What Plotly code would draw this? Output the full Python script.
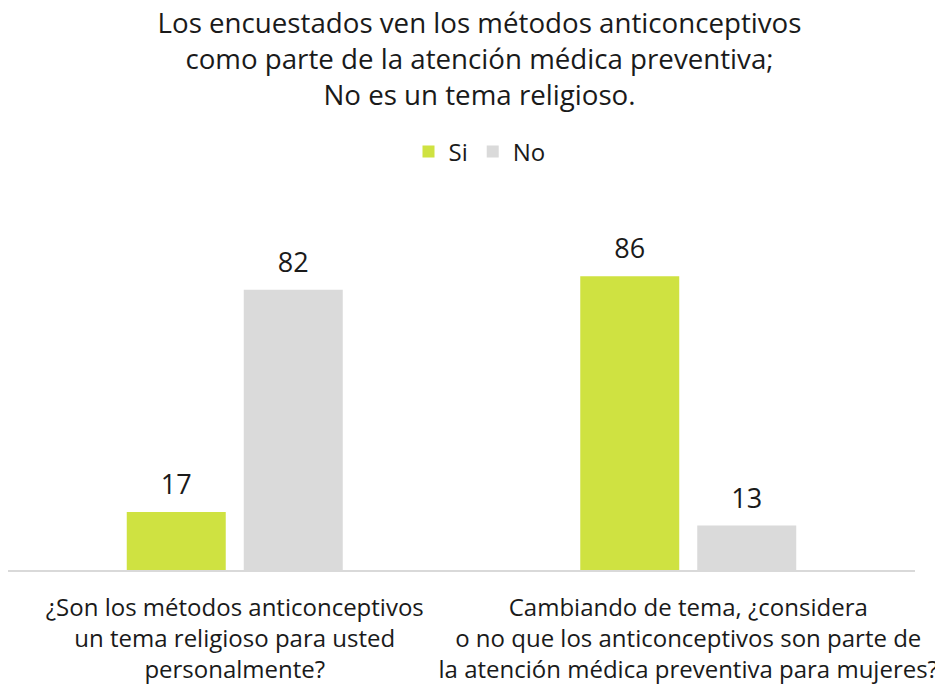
import plotly.graph_objects as go

categories = [
    "¿Son los métodos anticonceptivos<br>un tema religioso para usted<br>personalmente?",
    "Cambiando de tema, ¿considera<br>o no que los anticonceptivos son parte de<br>la atención médica preventiva para mujeres?",
]
si_values = [17, 86]
no_values = [82, 13]
series_names = ["Si", "No"]
title_text = ("Los encuestados ven los métodos anticonceptivos<br>"
              "como parte de la atención médica preventiva;<br>"
              "No es un tema religioso.")

GREEN = "#cfe241"
GRAY = "#dadada"
FONT = "Open Sans"
TXT = "#1a1a1a"

fig = go.Figure()
for name, vals, col in [(series_names[0], si_values, GREEN), (series_names[1], no_values, GRAY)]:
    fig.add_trace(go.Bar(
        name=name, x=categories, y=vals, marker_color=col, marker_line_width=0,
        offsetgroup=name, hoverinfo="skip",
    ))
for name, vals in [(series_names[0], si_values), (series_names[1], no_values)]:
    fig.add_trace(go.Scatter(
        x=categories, y=vals, mode="text+markers", text=[str(v) for v in vals],
        textposition="top center", textfont=dict(family=FONT, size=27, color=TXT),
        marker=dict(size=16, color="rgba(0,0,0,0)"),
        offsetgroup=name, showlegend=False, hoverinfo="skip", cliponaxis=False,
    ))

fig.update_layout(
    width=943, height=685,
    paper_bgcolor="white", plot_bgcolor="white",
    margin=dict(l=0, r=36, t=192, b=123, autoexpand=False),
    barmode="group", scattermode="group",
    bargap=0.484, bargroupgap=0.154,
    font=dict(family=FONT, color=TXT),
    title=dict(text=title_text, x=0.5, xref="container", xanchor="center",
               y=0.963, yref="container", yanchor="middle",
               font=dict(family=FONT, size=27.7, color=TXT), automargin=False),
    legend=dict(orientation="h", x=0.5, xref="container", xanchor="center",
                y=1.13, yanchor="middle", font=dict(family=FONT, size=24, color=TXT),
                itemsizing="constant"),
    showlegend=True,
)
fig.update_xaxes(showline=True, linecolor="#d9d9d9", linewidth=2, ticks="",
                 tickangle=0, automargin=False,
                 tickfont=dict(family=FONT, size=24, color=TXT), ticklabelstandoff=15,
                 showgrid=False)
fig.update_yaxes(range=[0, 108.3], visible=False, showgrid=False, zeroline=False,
                 automargin=False)

fig.write_html("out.html")
